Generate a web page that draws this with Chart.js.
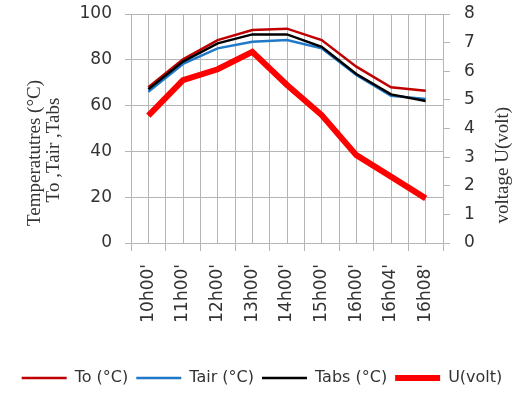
<!DOCTYPE html>
<html>
<head>
<meta charset="utf-8">
<script src="https://cdn.jsdelivr.net/npm/chart.js@4"></script>
<style>
  html, body { margin: 0; padding: 0; background: #fff; }
  #wrap { width: 524px; height: 393px; }
</style>
</head>
<body>
<div id="wrap"><canvas id="c"></canvas></div>
<script>
// Measurement times
const times = ["10h00'", "11h00'", "12h00'", "13h00'", "14h00'", "15h00'", "16h00'", "16h04'", "16h08'"];

// Temperatures (°C)
const tempTo   = [68.0, 80.2, 88.6, 93.0, 93.6, 88.6, 77.0, 68.0, 66.5];
const tempAir  = [66.0, 78.2, 85.0, 87.9, 88.6, 85.0, 73.4, 64.3, 62.9];
const tempAbs  = [67.1, 79.2, 87.2, 91.1, 91.1, 85.7, 73.8, 64.9, 62.0];

// Voltage (volt)
const voltage  = [4.45, 5.69, 6.07, 6.68, 5.52, 4.47, 3.07, 2.32, 1.56];

// Axis ranges
const tempRange = { min: 0, max: 100, step: 20 };
const voltRange = { min: 0, max: 8, step: 1 };

const GRID = '#b5b5b5';
const TEXT = '#333333';
const SANS = 'DejaVu Sans';

// Rotated axis titles, set in a serif face
const axisTitles = {
  id: 'axisTitles',
  afterDraw(chart) {
    const { ctx, chartArea } = chart;
    const h = chartArea.bottom - chartArea.top;
    const rot = (text, x, y) => {
      ctx.save();
      ctx.translate(x, y);
      ctx.rotate(-Math.PI / 2);
      ctx.fillText(text, 0, 0);
      ctx.restore();
    };
    ctx.save();
    ctx.fillStyle = TEXT;
    ctx.font = '19px "Liberation Serif"';
    ctx.textAlign = 'center';
    ctx.textBaseline = 'middle';
    rot('Temperatutres (°C)', chartArea.left - 96, chartArea.top + h * 0.607);
    rot('To ,Tair ,Tabs', chartArea.left - 77, chartArea.top + h * 0.594);
    rot('voltage U(volt)', chartArea.right + 60, chartArea.top + h * 0.66);
    ctx.restore();
  }
};

// Fix the side axes' footprint so the plot area sits where it should
const sideFit = width => s => {
  s.width = width;
  s.paddingTop = 14;
  s.paddingBottom = 0;
};

new Chart(document.getElementById('c'), {
  type: 'line',
  data: {
    labels: times,
    datasets: [
      { label: 'To (°C)', data: tempTo, borderColor: '#c00000', backgroundColor: '#c00000',
        borderWidth: 2.5, pointRadius: 0, tension: 0, yAxisID: 'y', xAxisID: 'x', order: 3 },
      { label: 'Tair (°C)', data: tempAir, borderColor: '#1f78c8', backgroundColor: '#1f78c8',
        borderWidth: 2.5, pointRadius: 0, tension: 0, yAxisID: 'y', xAxisID: 'x', order: 2 },
      { label: 'Tabs (°C)', data: tempAbs, borderColor: '#000000', backgroundColor: '#000000',
        borderWidth: 2.5, pointRadius: 0, tension: 0, yAxisID: 'y', xAxisID: 'x', order: 1 },
      { label: 'U(volt)', data: voltage, borderColor: '#ff0000', backgroundColor: '#ff0000',
        borderWidth: 6, pointRadius: 0, tension: 0, yAxisID: 'y1', xAxisID: 'x', order: 0 }
    ]
  },
  options: {
    responsive: true,
    maintainAspectRatio: false,
    animation: false,
    devicePixelRatio: 1,
    layout: { padding: { top: 0, left: 0, right: 0, bottom: -3 } },
    plugins: {
      tooltip: { enabled: false },
      legend: {
        position: 'bottom',
        labels: {
          usePointStyle: true,
          pointStyle: 'line',
          pointStyleWidth: 45,
          padding: 8,
          color: TEXT,
          font: { family: SANS, size: 16 },
          sort: (a, b) => a.datasetIndex - b.datasetIndex
        }
      }
    },
    scales: {
      x: {
        type: 'category',
        position: 'bottom',
        offset: true,
        grid: { offset: true, color: GRID, tickLength: 8, drawTicks: true },
        border: { color: GRID },
        ticks: { autoSkip: false, minRotation: 90, maxRotation: 90, padding: 13,
                 color: TEXT, font: { family: SANS, size: 17 } },
        afterFit: s => { s.height = 119; }
      },
      x2: {
        type: 'category',
        position: 'bottom',
        offset: true,
        grid: { offset: false, color: GRID, drawTicks: false },
        border: { display: false },
        ticks: { display: false },
        afterFit: s => { s.height = 0; }
      },
      y: {
        position: 'left',
        min: tempRange.min,
        max: tempRange.max,
        ticks: { stepSize: tempRange.step, padding: 13, color: TEXT, font: { family: SANS, size: 17 } },
        grid: { color: GRID, tickLength: 6 },
        border: { color: GRID },
        afterFit: sideFit(131)
      },
      y1: {
        position: 'right',
        min: voltRange.min,
        max: voltRange.max,
        ticks: { stepSize: voltRange.step, padding: 14, color: TEXT, font: { family: SANS, size: 17 } },
        grid: { drawOnChartArea: false, color: GRID, tickLength: 7 },
        border: { color: GRID },
        afterFit: sideFit(81)
      }
    }
  },
  plugins: [axisTitles]
});
</script>
</body>
</html>
